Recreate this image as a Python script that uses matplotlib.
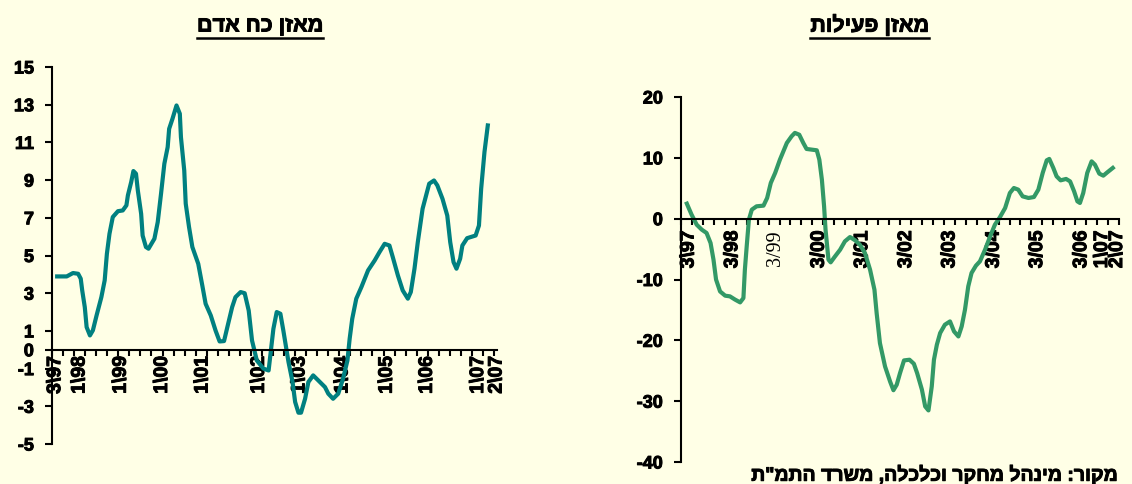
import matplotlib
matplotlib.use("Agg")
import matplotlib.pyplot as plt
import matplotlib.patheffects as pe
from matplotlib.lines import Line2D
from matplotlib.text import Text

plt.rcParams['font.family'] = ['Liberation Sans', 'DejaVu Sans']
plt.rcParams['font.weight'] = 'bold'
plt.rcParams['axes.unicode_minus'] = False

BG = '#FFFFE6'

########## Data ##########
# x = month index on the category axis (0 = 3/97, 120 = 2/07)
mp_x = [1.4, 4.0, 5.7, 7.1, 7.8, 8.2, 8.9, 9.4, 10.3, 11.1, 12.1, 13.4, 14.3, 14.9,
        15.6, 16.5, 17.9, 19.2, 20.2, 20.6, 21.5, 22.1, 22.8, 23.3, 24.2, 24.6,
        25.5, 26.2, 27.8, 28.7, 29.6, 30.5, 31.4, 31.8, 32.7, 33.8, 34.7, 35.0,
        35.9, 36.3, 37.2, 38.1, 39.7, 40.8, 41.7, 43.1, 44.4, 45.5, 46.7, 47.6,
        48.9, 49.8, 51.2, 52.3, 53.4, 54.3, 55.6, 57.4, 58.8, 60.1, 61.0, 62.0,
        62.8, 64.2, 65.3, 66.0, 66.9, 67.6, 68.7, 69.6, 70.9, 72.3, 74.1, 75.0,
        76.3, 77.7, 79.0, 80.2, 80.8, 81.5, 82.6, 84.0, 85.8, 87.6, 88.9, 90.3,
        91.6, 92.5, 93.9, 95.2, 96.6, 97.4, 98.4, 99.3, 100.6, 101.8, 102.4,
        103.7, 104.6, 106.0, 107.3, 108.1, 109.0, 109.8, 110.8, 111.4, 112.7,
        115.0, 115.9, 116.5, 117.4, 118.3]
mp_y = [3.89, 3.89, 4.07, 4.03, 3.77, 3.15, 2.26, 1.2, 0.76, 1.03, 1.82, 2.79, 3.68,
        5.09, 6.15, 7.04, 7.35, 7.39, 7.66, 8.19, 8.9, 9.48, 9.34, 8.45, 7.21, 6.06,
        5.45, 5.36, 5.89, 6.77, 8.28, 9.87, 10.75, 11.72, 12.25, 12.96, 12.52,
        11.28, 9.51, 7.75, 6.51, 5.45, 4.56, 3.41, 2.44, 1.82, 1.02, 0.44, 0.46,
        1.2, 2.26, 2.79, 3.06, 3.0, 2.08, 0.49, -0.57, -1.0, -1.1, 1.11, 2.0, 1.91,
        1.02, -0.65, -1.71, -2.77, -3.34, -3.34, -2.6, -1.71, -1.36, -1.63, -1.98,
        -2.33, -2.6, -2.33, -1.54, -0.57, 0.58, 1.64, 2.71, 3.33, 4.21, 4.74, 5.18,
        5.62, 5.53, 4.92, 3.94, 3.15, 2.71, 3.06, 4.3, 5.71, 7.48, 8.37, 8.81, 8.98,
        8.72, 8.01, 7.12, 5.71, 4.65, 4.3, 4.83, 5.53, 5.92, 6.06, 6.59, 8.54,
        10.49, 11.9]
mp_ticks = [1.0, 7.6, 18.8, 30.0, 41.0, 56.3, 67.3, 79.0, 91.0, 101.9, 115.8, 120.8]
mp_labels = ['3\\97', '1\\98', '1\\99', '1\\00', '1\\01', '1\\02', '1\\03', '1\\04',
             '1\\05', '1\\06', '1\\07', '2\\07']
mp_yticks = [-5, -3, -1, 0, 1, 3, 5, 7, 9, 11, 13, 15]

act_x = [1.6, 2.9, 4.3, 5.7, 7.0, 8.1, 8.9, 9.6, 10.7, 12.1, 13.4, 14.8, 16.2, 17.1,
         17.5, 18.0, 18.6, 19.4, 20.7, 22.6, 23.6, 24.6, 25.8, 27.1, 29.0, 30.3,
         31.2, 32.4, 33.5, 34.4, 35.8, 37.2, 37.9, 38.6, 39.2, 39.6, 40.4, 41.0,
         42.2, 43.6, 44.9, 46.3, 47.7, 49.0, 50.4, 51.8, 53.0, 53.6, 54.5, 55.9,
         57.3, 58.2, 59.1, 60.0, 61.1, 62.6, 63.8, 64.7, 66.0, 66.9, 67.8, 68.7,
         69.3, 70.1, 71.0, 72.3, 73.7, 74.8, 76.0, 76.9, 77.8, 78.7, 79.6, 80.8,
         81.9, 83.3, 84.7, 86.0, 87.4, 88.8, 90.1, 91.2, 92.4, 93.6, 95.2, 96.7,
         97.9, 99.1, 100.2, 100.9, 102.0, 102.9, 104.0, 105.5, 106.6, 107.7,
         108.6, 109.3, 110.2, 111.3, 112.5, 113.4, 114.6, 115.7, 116.8, 118.3]
act_y = [2.47, 0.66, -0.99, -1.81, -2.35, -4.0, -6.74, -10.0, -11.96, -12.66,
         -12.77, -13.3, -13.76, -13.05, -8.39, -4.55, -0.16, 1.48, 2.03, 2.14, 3.4,
         5.87, 7.52, 9.7, 12.45, 13.54, 14.1, 13.8, 12.45, 11.46, 11.35, 11.24, 9.7,
         6.41, 2.03, -1.81, -6.74, -7.18, -6.2, -5.1, -3.73, -3.02, -3.56, -4.28,
         -5.65, -8.39, -11.68, -15.52, -20.45, -24.29, -26.8, -28.2, -27.3, -25.4,
         -23.3, -23.19, -23.85, -25.4, -28.1, -30.87, -31.52, -27.58, -23.19,
         -20.72, -18.8, -17.43, -16.89, -18.53, -19.36, -17.71, -14.97, -11.13,
         -8.93, -7.73, -7.02, -5.1, -2.91, -0.99, 0.27, 1.75, 4.22, 5.04, 4.77,
         3.67, 3.4, 3.56, 4.77, 7.52, 9.59, 9.82, 8.34, 6.96, 6.3, 6.53, 6.13,
         4.49, 2.85, 2.58, 4.22, 7.52, 9.42, 8.88, 7.4, 7.07, 7.62, 8.34]
act_ticks = [2.2, 14.2, 25.8, 37.9, 49.8, 61.8, 73.7, 85.8, 97.7, 109.8, 115.5, 119.6]
act_labels = ['3\\97', '3/98', '3/99', '3/00', '3/01', '3/02', '3/03', '3/04',
              '3/05', '3/06', '1\\07', '2\\07']
act_yticks = [-40, -30, -20, -10, 0, 10, 20]

title_mp = "מאזן כח אדם"
title_act = "מאזן פעילות"
source = 'מקור: מינהל מחקר וכלכלה, משרד התמ"ת'

########## Plot ##########
fig = plt.figure(figsize=(11.32, 4.84), dpi=100, facecolor=BG)
W, H = 1132.0, 484.0
ax1 = fig.add_axes([52 / W, 40 / H, 445 / W, 377 / H])
ax2 = fig.add_axes([681 / W, 22 / H, 438 / W, 365 / H])


def setup(ax, ylim, yticks, xticks, xlabels, lab_pad):
    ax.set_facecolor(BG)
    ax.set_xlim(0, 120)
    ax.set_ylim(*ylim)
    ax.spines['top'].set_visible(False)
    ax.spines['right'].set_visible(False)
    ax.spines['bottom'].set_position(('data', 0))
    ax.spines['bottom'].set_linewidth(1.5)
    ax.spines['left'].set_linewidth(1.5)
    ax.set_yticks(yticks)
    ax.tick_params(axis='y', length=5, width=1.5, labelsize=13, pad=8)
    ax.xaxis.remove_overlapping_locs = False
    ax.set_xticks(range(0, 121, 3), minor=True)
    ax.set_xticks(xticks)
    ax.set_xticklabels(xlabels, rotation=90, fontsize=14, fontweight='bold')
    ax.tick_params(axis='x', which='major', length=0, pad=lab_pad)
    ax.tick_params(axis='x', which='minor', length=4.5, width=1.5)


setup(ax1, (-5, 15), mp_yticks, mp_ticks, mp_labels, 4.5)
setup(ax2, (-40, 20), act_yticks, act_ticks, act_labels, 8.5)

ax1.plot(mp_x, mp_y, color='#008080', linewidth=3, solid_joinstyle='round')
ax2.plot(act_x, act_y, color='#339966', linewidth=3, solid_joinstyle='round')

# Hebrew titles: reverse for left-to-right rendering
t1 = fig.text(260 / W, 1 - 26 / H, title_mp[::-1], ha='center', va='center',
              fontsize=15.5, fontweight='bold')
t2 = fig.text(869.5 / W, 1 - 26 / H, title_act[::-1], ha='center', va='center',
              fontsize=15.5, fontweight='bold')
fig.text(1118 / W, 1 - 465 / H, source[::-1], ha='right', va='top',
         fontsize=14, fontweight='bold')

# heavier text, closer to the original rendering
for t in fig.findobj(Text):
    t.set_path_effects([pe.withStroke(linewidth=0.7, foreground='black')])

# the 3/99 label is set in a plain serif face in the original
for lab in ax2.get_xticklabels():
    if lab.get_text() == '3/99':
        lab.set_family('Liberation Serif')
        lab.set_fontweight('normal')
        lab.set_fontsize(14.5)
        lab.set_path_effects([])

# underline the titles
fig.canvas.draw()
r = fig.canvas.get_renderer()
for t in (t1, t2):
    bb = t.get_window_extent(r).transformed(fig.transFigure.inverted())
    fig.add_artist(Line2D([bb.x0, bb.x1], [1 - 37.5 / H] * 2, color='black',
                          linewidth=1.8, transform=fig.transFigure))

fig.savefig('out.png', dpi=100, facecolor=BG)
